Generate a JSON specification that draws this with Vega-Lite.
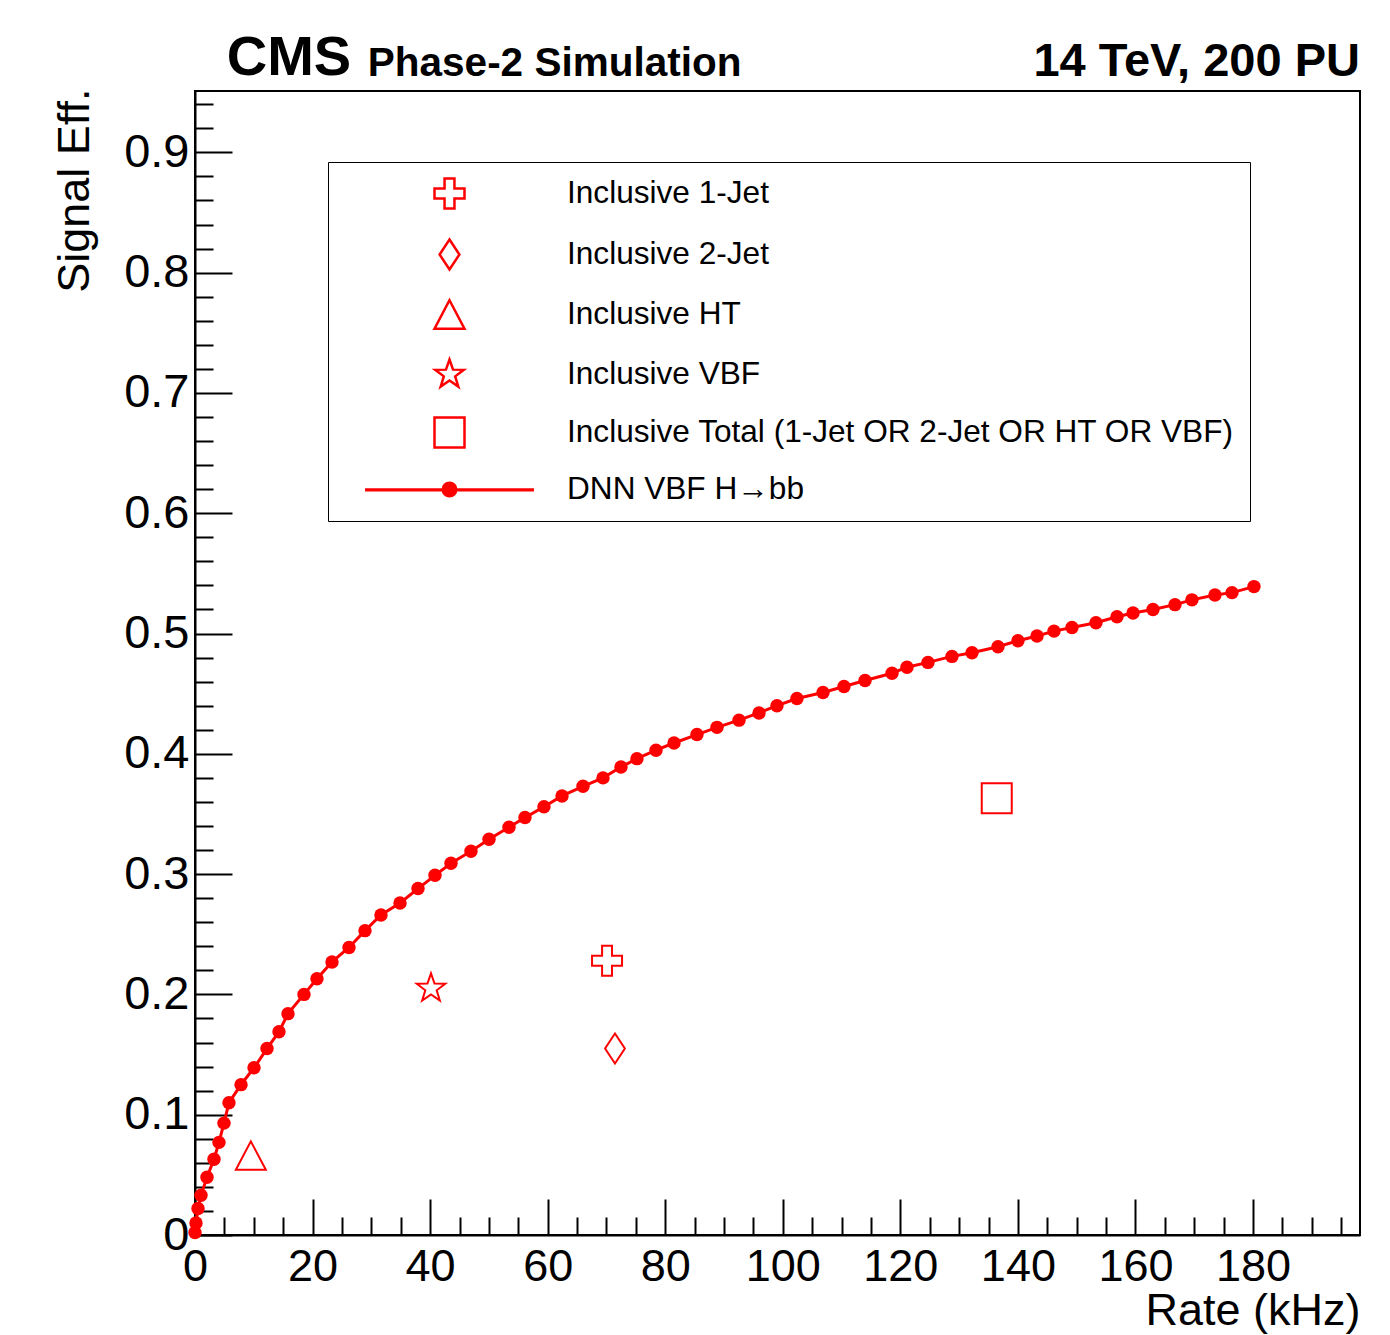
{
  "$schema": "https://vega.github.io/schema/vega-lite/v6.json",
  "width": 1165,
  "height": 1144,
  "autosize": {"type": "none"},
  "padding": {"left": 195, "top": 91, "right": 30, "bottom": 100},
  "background": "white",
  "config": {
    "view": {"stroke": "black", "strokeWidth": 2},
    "font": "Liberation Sans",
    "axis": {"grid": false, "domainColor": "black", "domainWidth": 2, "tickColor": "black", "tickWidth": 2, "labelColor": "black", "titleColor": "black", "labelFont": "Liberation Sans", "titleFont": "Liberation Sans", "titleFontWeight": "normal"}
  },
  "datasets": {
    "dnn": [
      {"rate": 0.0, "eff": 0.002}, {"rate": 0.17, "eff": 0.010}, {"rate": 0.51, "eff": 0.022}, {"rate": 1.02, "eff": 0.033},
      {"rate": 2.04, "eff": 0.048}, {"rate": 3.23, "eff": 0.063}, {"rate": 4.08, "eff": 0.077}, {"rate": 4.93, "eff": 0.093},
      {"rate": 5.78, "eff": 0.110}, {"rate": 7.83, "eff": 0.125}, {"rate": 10.04, "eff": 0.139}, {"rate": 12.25, "eff": 0.155},
      {"rate": 14.29, "eff": 0.169}, {"rate": 15.82, "eff": 0.184}, {"rate": 18.54, "eff": 0.200}, {"rate": 20.75, "eff": 0.213},
      {"rate": 23.31, "eff": 0.227}, {"rate": 26.20, "eff": 0.239}, {"rate": 28.92, "eff": 0.253}, {"rate": 31.64, "eff": 0.266},
      {"rate": 34.88, "eff": 0.276}, {"rate": 37.94, "eff": 0.288}, {"rate": 40.83, "eff": 0.299}, {"rate": 43.55, "eff": 0.309},
      {"rate": 46.95, "eff": 0.319}, {"rate": 50.02, "eff": 0.329}, {"rate": 53.42, "eff": 0.339}, {"rate": 56.14, "eff": 0.347},
      {"rate": 59.37, "eff": 0.356}, {"rate": 62.44, "eff": 0.365}, {"rate": 66.01, "eff": 0.373}, {"rate": 69.41, "eff": 0.380},
      {"rate": 72.47, "eff": 0.389}, {"rate": 75.19, "eff": 0.396}, {"rate": 78.43, "eff": 0.403}, {"rate": 81.49, "eff": 0.409},
      {"rate": 85.40, "eff": 0.416}, {"rate": 88.81, "eff": 0.422}, {"rate": 92.55, "eff": 0.428}, {"rate": 95.95, "eff": 0.434},
      {"rate": 99.01, "eff": 0.440}, {"rate": 102.41, "eff": 0.446}, {"rate": 106.84, "eff": 0.451}, {"rate": 110.41, "eff": 0.456},
      {"rate": 113.99, "eff": 0.461}, {"rate": 118.58, "eff": 0.467}, {"rate": 121.13, "eff": 0.472}, {"rate": 124.70, "eff": 0.476},
      {"rate": 128.78, "eff": 0.481}, {"rate": 132.19, "eff": 0.484}, {"rate": 136.61, "eff": 0.489}, {"rate": 140.01, "eff": 0.494},
      {"rate": 143.25, "eff": 0.498}, {"rate": 146.14, "eff": 0.502}, {"rate": 149.20, "eff": 0.505}, {"rate": 153.28, "eff": 0.509},
      {"rate": 156.86, "eff": 0.514}, {"rate": 159.58, "eff": 0.517}, {"rate": 162.98, "eff": 0.520}, {"rate": 166.72, "eff": 0.524},
      {"rate": 169.61, "eff": 0.528}, {"rate": 173.52, "eff": 0.532}, {"rate": 176.42, "eff": 0.534}, {"rate": 180.16, "eff": 0.539}
    ],
    "markers": [
      {"series": "Inclusive 1-Jet", "rate": 70.1, "eff": 0.228},
      {"series": "Inclusive 2-Jet", "rate": 71.45, "eff": 0.155},
      {"series": "Inclusive HT", "rate": 9.5, "eff": 0.066},
      {"series": "Inclusive VBF", "rate": 40.15, "eff": 0.205},
      {"series": "Inclusive Total (1-Jet OR 2-Jet OR HT OR VBF)", "rate": 136.4, "eff": 0.363}
    ]
  },
  "resolve": {"axis": {"x": "independent", "y": "independent"}},
  "layer": [
    {
      "data": {"name": "dnn"},
      "mark": {"type": "line", "color": "#ff0000", "strokeWidth": 3},
      "encoding": {
        "x": {"field": "rate", "type": "quantitative", "scale": {"domain": [0, 198.2], "nice": false},
          "axis": {"orient": "bottom", "values": [0, 20, 40, 60, 80, 100, 120, 140, 160, 180], "tickSize": -36, "labelPadding": 45, "labelFontSize": 45, "labelBaseline": "top", "labelFlush": false,
            "title": "Rate (kHz)", "titleFontSize": 45, "titleX": 1165, "titleY": 89, "titleAlign": "right", "titleAnchor": "end", "titleBaseline": "alphabetic"}},
        "y": {"field": "eff", "type": "quantitative", "scale": {"domain": [0, 0.951], "nice": false},
          "axis": {"orient": "left", "values": [0, 0.1, 0.2, 0.3, 0.4, 0.5, 0.6, 0.7, 0.8, 0.9], "format": "~g", "tickSize": -37, "labelPadding": 43, "labelFontSize": 47, "labelFlush": false,
            "title": "Signal Eff.", "titleFontSize": 45, "titleX": -107, "titleY": -3, "titleAngle": -90, "titleAlign": "right", "titleAnchor": "end", "titleBaseline": "alphabetic"}}
      }
    },
    {
      "data": {"name": "dnn"},
      "mark": {"type": "point", "filled": true, "color": "#ff0000", "size": 180, "opacity": 1, "shape": "circle"},
      "encoding": {
        "x": {"field": "rate", "type": "quantitative", "scale": {"domain": [0, 198.2], "nice": false},
          "axis": {"orient": "bottom", "values": [5, 10, 15, 25, 30, 35, 45, 50, 55, 65, 70, 75, 85, 90, 95, 105, 110, 115, 125, 130, 135, 145, 150, 155, 165, 170, 175, 185, 190, 195], "tickSize": -18, "labels": false, "domain": false, "title": null}},
        "y": {"field": "eff", "type": "quantitative", "scale": {"domain": [0, 0.951], "nice": false},
          "axis": {"orient": "left", "values": [0.02, 0.04, 0.06, 0.08, 0.12, 0.14, 0.16, 0.18, 0.22, 0.24, 0.26, 0.28, 0.32, 0.34, 0.36, 0.38, 0.42, 0.44, 0.46, 0.48, 0.52, 0.54, 0.56, 0.58, 0.62, 0.64, 0.66, 0.68, 0.72, 0.74, 0.76, 0.78, 0.82, 0.84, 0.86, 0.88, 0.92, 0.94], "tickSize": -18, "labels": false, "domain": false, "title": null}}
      }
    },
    {
      "data": {"name": "markers"},
      "mark": {"type": "point", "filled": false, "color": "#ff0000", "size": 900, "opacity": 1},
      "encoding": {
        "x": {"field": "rate", "type": "quantitative", "scale": {"domain": [0, 198.2], "nice": false}, "axis": null},
        "y": {"field": "eff", "type": "quantitative", "scale": {"domain": [0, 0.951], "nice": false}, "axis": null},
        "shape": {
          "field": "series", "type": "nominal",
          "scale": {
            "domain": ["Inclusive 1-Jet", "Inclusive 2-Jet", "Inclusive HT", "Inclusive VBF", "Inclusive Total (1-Jet OR 2-Jet OR HT OR VBF)", "DNN VBF H→bb"],
            "range": [
              "M-0.33,-1H0.33V-0.33H1V0.33H0.33V1H-0.33V0.33H-1V-0.33H-0.33Z",
              "M0,-1L0.66,0L0,1L-0.66,0Z",
              "M0,-0.95L1,0.95L-1,0.95Z",
              "M0,-1L0.235,-0.324L0.951,-0.309L0.38,0.124L0.588,0.809L0,0.4L-0.588,0.809L-0.38,0.124L-0.951,-0.309L-0.235,-0.324Z",
              "M-1,-1H1V1H-1Z",
              "M-5.63,0H5.63M-5.63,0.05H5.63M0.45,0A0.45,0.45 0 1,1 -0.45,0A0.45,0.45 0 1,1 0.45,0M0.33,0A0.33,0.33 0 1,1 -0.33,0A0.33,0.33 0 1,1 0.33,0M0.21,0A0.21,0.21 0 1,1 -0.21,0A0.21,0.21 0 1,1 0.21,0M0.09,0A0.09,0.09 0 1,1 -0.09,0A0.09,0.09 0 1,1 0.09,0"
            ]
          },
          "legend": {
            "title": null, "orient": "none", "legendX": 133, "legendY": 71,
            "strokeColor": "black", "fillColor": "white", "padding": 15,
            "symbolSize": 900, "symbolStrokeColor": "#ff0000", "symbolStrokeWidth": 2.5, "symbolOffset": 90, "symbolOpacity": 1,
            "labelOffset": 101, "labelFontSize": 31.6, "labelFont": "Liberation Sans", "labelColor": "black", "labelLimit": 0,
            "rowPadding": 20,
            "encode": {"legend": {"update": {"strokeWidth": {"value": 2}}}}
          }
        }
      }
    },
    {
      "data": {"values": [{"label": "CMS"}]},
      "mark": {"type": "text", "font": "Liberation Sans", "fontWeight": "bold", "fontSize": 56, "align": "left", "baseline": "alphabetic", "color": "black"},
      "encoding": {
        "x": {"datum": 5.4, "type": "quantitative", "scale": {"domain": [0, 198.2], "nice": false}, "axis": null},
        "y": {"datum": 0.9643, "type": "quantitative", "scale": {"domain": [0, 0.951], "nice": false}, "axis": null},
        "text": {"field": "label"}
      }
    },
    {
      "data": {"values": [{"label": "Phase-2 Simulation"}]},
      "mark": {"type": "text", "font": "Liberation Sans", "fontWeight": "bold", "fontSize": 40.5, "align": "left", "baseline": "alphabetic", "color": "black"},
      "encoding": {
        "x": {"datum": 29.4, "type": "quantitative", "scale": {"domain": [0, 198.2], "nice": false}, "axis": null},
        "y": {"datum": 0.9635, "type": "quantitative", "scale": {"domain": [0, 0.951], "nice": false}, "axis": null},
        "text": {"field": "label"}
      }
    },
    {
      "data": {"values": [{"label": "14 TeV, 200 PU"}]},
      "mark": {"type": "text", "font": "Liberation Sans", "fontWeight": "bold", "fontSize": 47, "align": "right", "baseline": "alphabetic", "color": "black"},
      "encoding": {
        "x": {"datum": 198.2, "type": "quantitative", "scale": {"domain": [0, 198.2], "nice": false}, "axis": null},
        "y": {"datum": 0.9635, "type": "quantitative", "scale": {"domain": [0, 0.951], "nice": false}, "axis": null},
        "text": {"field": "label"}
      }
    }
  ]
}
